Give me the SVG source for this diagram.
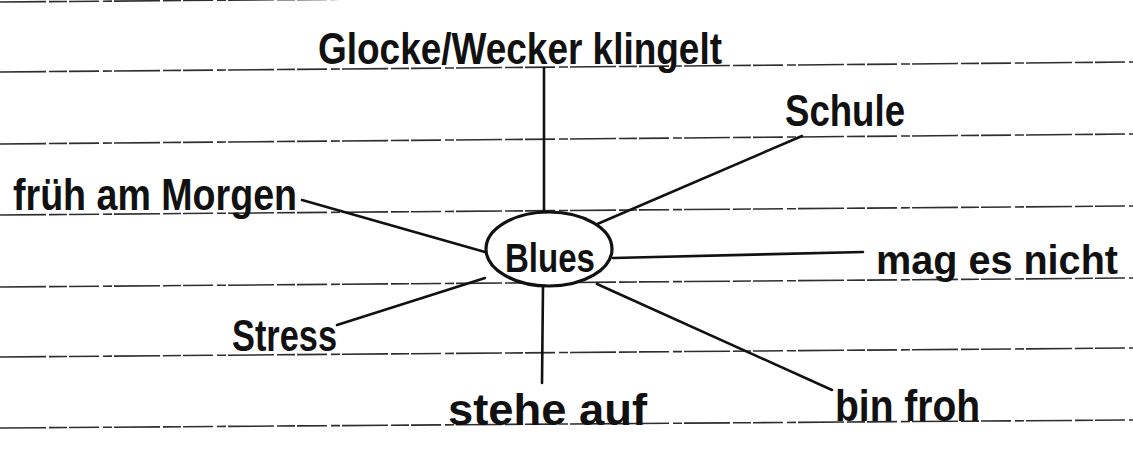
<svg xmlns="http://www.w3.org/2000/svg" width="1133" height="452" viewBox="0 0 1133 452">
  <style>
    .rule { stroke: #2e2e2e; stroke-width: 1.6; stroke-dasharray: 46 3 18 2 30 4 9 2; fill: none; }
    .conn { stroke: #111; stroke-width: 2.6; stroke-linecap: round; fill: none; }
    .lbl { font-family: "Liberation Sans", "DejaVu Sans", sans-serif; font-size: 44px; font-weight: bold; fill: #111; }
    .hub { fill: #fff; stroke: #111; stroke-width: 3.2; }
  </style>
  <rect width="1133" height="452" fill="#ffffff"/>
  <g id="ruled-lines">
    <line class="rule" x1="0" y1="2" x2="1133" y2="-7"/>
    <line class="rule" x1="0" y1="72" x2="1133" y2="62"/>
    <line class="rule" x1="0" y1="144" x2="1133" y2="134"/>
    <line class="rule" x1="0" y1="215" x2="1133" y2="206"/>
    <line class="rule" x1="0" y1="287" x2="1133" y2="278"/>
    <line class="rule" x1="0" y1="357" x2="1133" y2="348"/>
    <line class="rule" x1="0" y1="428" x2="1133" y2="420"/>
  </g>
  <g id="connectors">
    <line class="conn" x1="544" y1="68" x2="544" y2="213"/>
    <line class="conn" x1="543" y1="286" x2="542" y2="383"/>
    <line class="conn" x1="595" y1="225" x2="802" y2="136"/>
    <line class="conn" x1="302" y1="200" x2="485" y2="252"/>
    <line class="conn" x1="613" y1="258" x2="863" y2="252"/>
    <line class="conn" x1="485" y1="278" x2="337" y2="325"/>
    <line class="conn" x1="597" y1="284" x2="832" y2="390"/>
  </g>
  <g id="node-blues">
    <ellipse class="hub" cx="549" cy="249" rx="63" ry="37"/>
    <text class="lbl" x="505" y="272" textLength="90" lengthAdjust="spacingAndGlyphs" style="font-size:40px">Blues</text>
  </g>
  <g id="node-glocke">
    <text class="lbl" x="318" y="64" textLength="404" lengthAdjust="spacingAndGlyphs">Glocke/Wecker klingelt</text>
  </g>
  <g id="node-schule">
    <text class="lbl" x="785" y="126" textLength="120" lengthAdjust="spacingAndGlyphs">Schule</text>
  </g>
  <g id="node-frueh">
    <text class="lbl" x="13" y="210" textLength="284" lengthAdjust="spacingAndGlyphs">früh am Morgen</text>
  </g>
  <g id="node-mag">
    <text class="lbl" x="876" y="274" textLength="242" lengthAdjust="spacingAndGlyphs" style="font-size:40px">mag es nicht</text>
  </g>
  <g id="node-stress">
    <text class="lbl" x="232" y="351" textLength="105" lengthAdjust="spacingAndGlyphs">Stress</text>
  </g>
  <g id="node-stehe">
    <text class="lbl" x="448" y="425" textLength="199" lengthAdjust="spacingAndGlyphs">stehe auf</text>
  </g>
  <g id="node-froh">
    <text class="lbl" x="835" y="421" textLength="145" lengthAdjust="spacingAndGlyphs">bin froh</text>
  </g>
</svg>
